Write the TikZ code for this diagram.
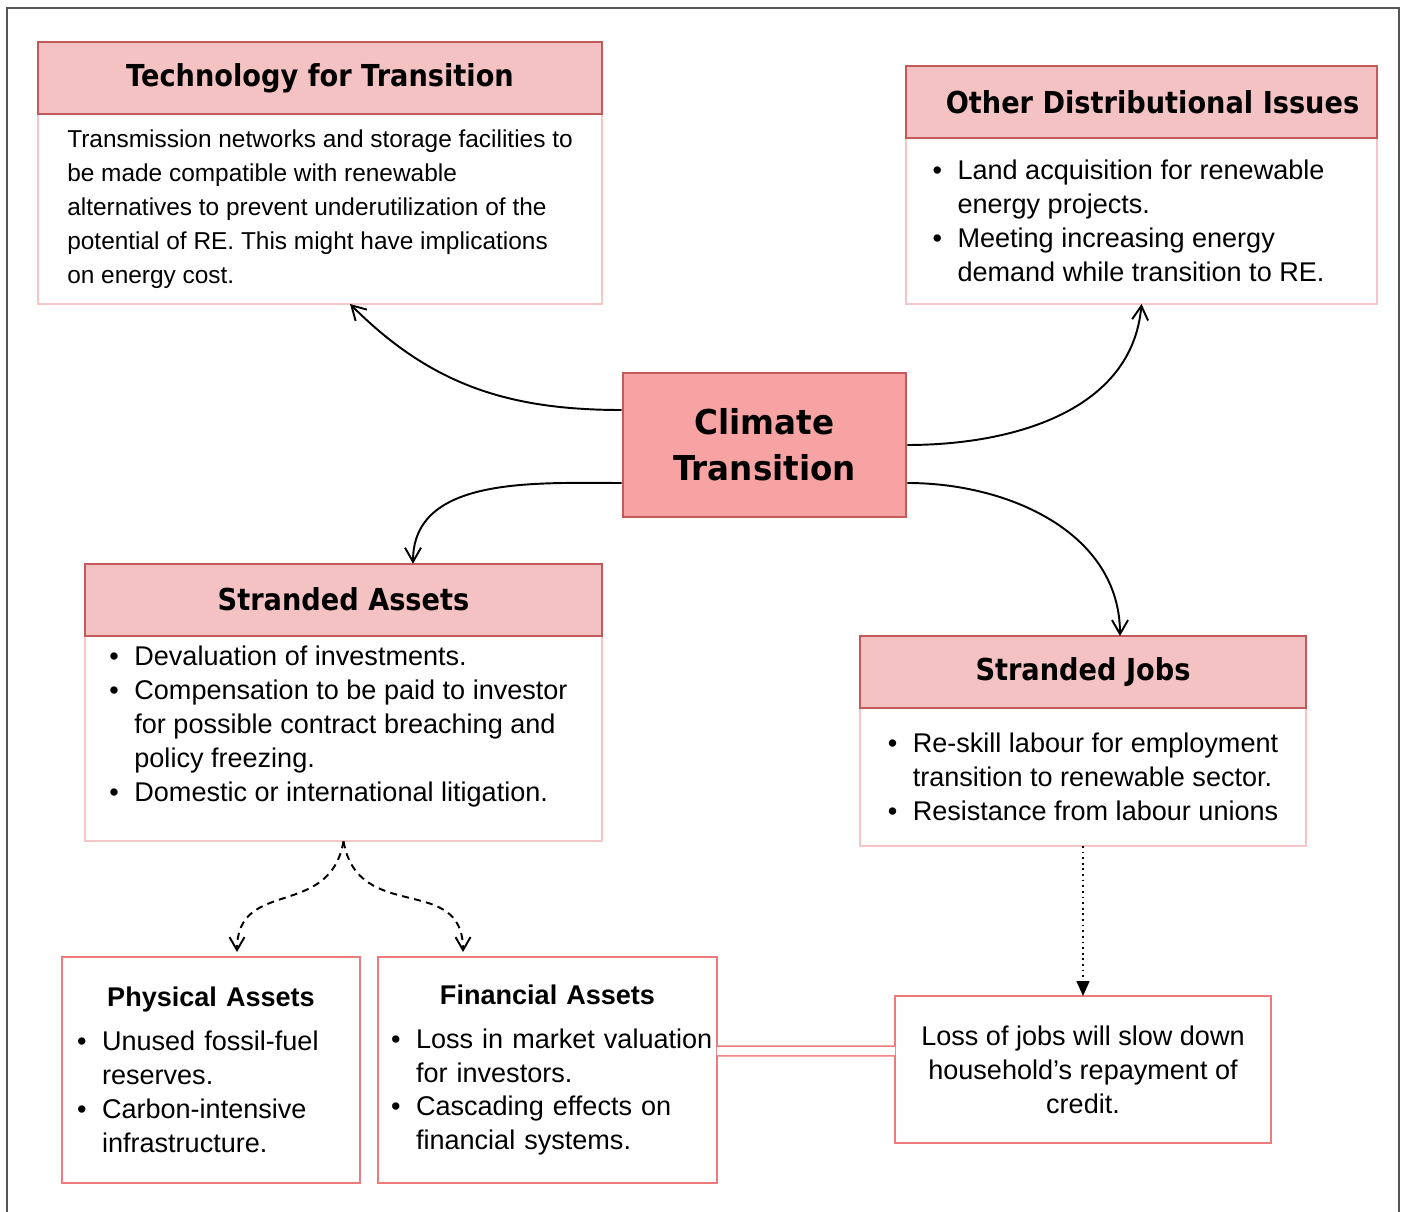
\documentclass[tikz,border=0pt]{standalone}
\usepackage{fontspec}
\setmainfont{Liberation Sans}
\newfontfamily\headfont{DejaVu Sans}[FakeStretch=0.9]
\newfontfamily\corefont{DejaVu Sans}[FakeStretch=0.95]
\usetikzlibrary{positioning,arrows.meta}

\definecolor{headfill}{HTML}{F4C2C2}
\definecolor{headline}{HTML}{C25A5A}
\definecolor{corefill}{HTML}{F7A3A3}
\definecolor{bodyline}{HTML}{F5C6C6}
\definecolor{leafline}{HTML}{EE7B7B}
\definecolor{framegray}{HTML}{555555}

\newcommand{\bodysize}{\fontsize{15.4}{19.35}\selectfont}
\newcommand{\bul}{\makebox[0.5cm][l]{\textbullet}}
\newcommand{\ind}{\hspace*{0.5cm}}

\begin{document}
\begin{tikzpicture}[x=0.02cm, y=0.02cm,
  head/.style={draw=headline, fill=headfill, line width=1.3pt, outer sep=0pt,
    minimum height=1.44cm, inner sep=0pt, font=\headfont\bfseries\fontsize{17.2}{20}\selectfont},
  body/.style={draw=bodyline, fill=white, line width=1pt, outer sep=0pt,
    align=left, font=\bodysize},
  leaf/.style={draw=leafline, fill=white, line width=1.1pt, outer sep=0pt, font=\bodysize},
  link/.style={line width=1.1pt, -{Straight Barb[length=2.8mm,width=3.2mm]}},
  split/.style={line width=1.1pt, dash pattern=on 4pt off 3pt, shorten >=0.1cm,
    -{Straight Barb[length=2.6mm,width=3mm]}},
  jobline/.style={line width=0.8pt, dash pattern=on 1pt off 2.2pt,
    -{Triangle[length=3mm,width=2.6mm]}},
  credit/.style={draw=leafline, line width=0.9pt, double=white, double distance=0.16cm}]
\useasboundingbox (0,0) rectangle (1402,-1212);
% frame
\draw[framegray, line width=0.8pt] (7,-1212) -- (7,-8) -- (1399,-8) -- (1399,-1212);

% top boxes
\node[body, minimum width=11.28cm, minimum height=3.8cm,
  font=\fontsize{13.9}{19.35}\selectfont] (techbody) at (320,-209)
  {Transmission networks and storage facilities to\\
   be made compatible with renewable\\
   alternatives to prevent underutilization of the\\
   potential of RE. This might have implications\\
   on energy cost.};
\node[head, minimum width=11.28cm, above=0pt of techbody] (techhead) {Technology for Transition};

\node[body, minimum width=9.42cm, minimum height=3.32cm] (otherbody) at (1141.5,-221)
  {\bul Land acquisition for renewable\\
   \ind energy projects.\\
   \bul Meeting increasing energy\\
   \ind demand while transition to RE.\hspace*{0.52cm}};
\node[head, minimum width=9.42cm, above=0pt of otherbody] (otherhead)
  {\hspace*{0.44cm}Other Distributional Issues};

% centre
\node[draw=headline, fill=corefill, line width=1.5pt, minimum width=5.66cm, minimum height=2.88cm,
  align=center, font=\corefont\bfseries\fontsize{19.5}{26}\selectfont] (climate) at (764.5,-445)
  {Climate\\Transition};

% stranded
\node[body, minimum width=10.34cm, minimum height=4.06cm] (sabody) at (343.5,-738.5)
  {\begin{tabular}{@{}l@{}}
   \bul Devaluation of investments.\\
   \bul Compensation to be paid to investor\hspace*{0.2cm}\\
   \ind for possible contract breaching and\\
   \ind policy freezing.\\
   \bul Domestic or international litigation.\\[0.48cm]
   \end{tabular}};
\node[head, minimum width=10.34cm, above=0pt of sabody] (sahead) {Stranded Assets};

\node[body, minimum width=8.92cm, minimum height=2.76cm] (sjbody) at (1083,-777)
  {\bul Re-skill labour for employment\\
   \ind transition to renewable sector.\\
   \bul Resistance from labour unions};
\node[head, minimum width=8.92cm, above=0pt of sjbody] (sjhead) {Stranded Jobs};

% bottom boxes
\node[leaf, minimum width=5.96cm, minimum height=4.52cm, text width=5.36cm, inner xsep=0.3cm,
  align=left] (physical) at (211,-1070)
  {\centerline{\bfseries Physical Assets}\vskip0.2cm
   \bul Unused fossil-fuel\\
   \ind reserves.\\
   \bul Carbon-intensive\\
   \ind infrastructure.};
\node[leaf, minimum width=6.78cm, minimum height=4.52cm, text width=6.26cm, inner xsep=0.26cm,
  align=left] (financial) at (547.5,-1070)
  {\centerline{\bfseries Financial Assets}\vskip0.2cm
   \bul\mbox{Loss in market valuation}\\
   \ind for investors.\\
   \bul Cascading effects on\\
   \ind financial systems.};
\node[leaf, minimum width=7.52cm, minimum height=2.94cm, align=center] (loss) at (1083,-1069.5)
  {Loss of jobs will slow down\\household's repayment of\\credit.};

% connectors
\draw[link] ([yshift=0.7cm]climate.west) to[out=180,in=-45] ([xshift=0.6cm]techbody.south);
\draw[link] (climate.east) to[out=0,in=-95] (otherbody.south);
\draw[link] ([yshift=-0.76cm]climate.west) to[out=180,in=90] ([xshift=1.39cm]sahead.north);
\draw[link] ([yshift=-0.76cm]climate.east) to[out=0,in=90] ([xshift=0.74cm]sjhead.north);
\draw[split] (sabody.south) to[out=-100,in=90,looseness=1.3] ([xshift=0.52cm]physical.north);
\draw[split] (sabody.south) to[out=-80,in=90,looseness=1.3] ([xshift=-1.69cm]financial.north);
\draw[jobline] (sjbody.south) -- (loss.north);
\draw[credit] ([yshift=0.38cm]financial.east) -- ([yshift=0.37cm]loss.west);
\end{tikzpicture}
\end{document}
